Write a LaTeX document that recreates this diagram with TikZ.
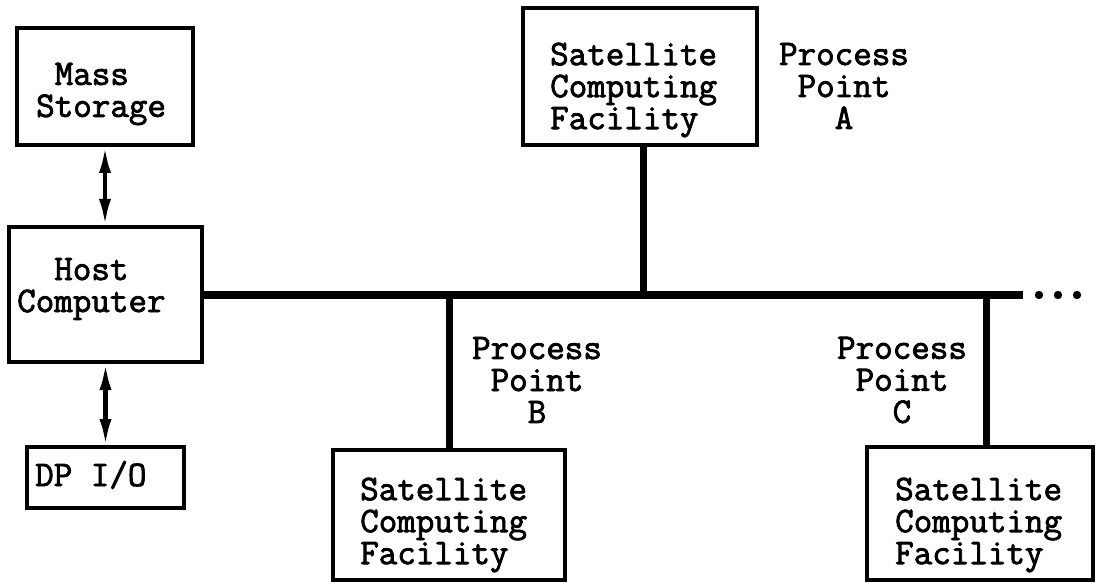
\documentclass[tikz,border=0pt]{standalone}
\usepackage{fontspec}
\setmonofont{Latin Modern Mono}[FakeBold=2.2]
\usetikzlibrary{arrows.meta}
\begin{document}
\begin{tikzpicture}[x=1pt,y=-1pt,
  box/.style={draw,line width=4.5pt,inner sep=0pt,outer sep=0pt},
  lbl/.style={inner sep=0pt,font=\fontsize{36}{32}\selectfont\ttfamily},
  bus/.style={line width=8pt},
  stem/.style={line width=7pt},
  dblarrow/.style={line width=4.5pt,>={Latex[length=28pt,width=12pt]},<->}]
\useasboundingbox (0,0) rectangle (1096,583);
\fill[white] (0,0) rectangle (1096,583);

% boxes
\node[box,minimum width=176pt,minimum height=117pt] (ms)   at (105,86.5)  {};
\node[box,minimum width=193pt,minimum height=135pt] (host) at (105.5,294.5) {};
\node[box,minimum width=157pt,minimum height=61pt]  (dpio) at (105.5,477.5) {};
\node[box,minimum width=234pt,minimum height=137pt] (satA) at (640,76.5)  {};
\node[box,minimum width=232pt,minimum height=130pt] (satB) at (449,515)   {};
\node[box,minimum width=226pt,minimum height=133pt] (satC) at (980,513.5) {};

% box texts
\node[lbl,anchor=west,align=left]   (msT)   at (36,94)   {\hphantom{S}Mass\\Storage};
\node[lbl,anchor=west,align=center] (hostT) at (17,289)  {Host\\Computer};
\node[lbl,anchor=west]              (dpioT) at (35,475)  {DP I/O};
\node[lbl,anchor=west,align=left]   (satAT) at (550,90)  {Satellite\\Computing\\Facility};
\node[lbl,anchor=west,align=left]   (satBT) at (360,525) {Satellite\\Computing\\Facility};
\node[lbl,anchor=west,align=left]   (satCT) at (895,525) {Satellite\\Computing\\Facility};

% process point labels
\node[lbl,align=center] (ppA) at (844,86)  {Process\\Point\\A};
\node[lbl,align=center] (ppB) at (537,380) {Process\\Point\\B};
\node[lbl,align=center] (ppC) at (902,380) {Process\\Point\\C};

% bus
\coordinate (busend) at (1023,294.5);
\draw[bus] (host.east) -- (busend);
\coordinate (tapA) at (643,294.5);
\coordinate (tapB) at (449,294.5);
\coordinate (tapC) at (986,294.5);
\draw[stem] (tapA) -- (tapA |- satA.south);
\draw[stem] (tapB) -- (tapB |- satB.north);
\draw[stem] (tapC) -- (tapC |- satC.north);

% continuation dots
\fill (1039,295) circle[radius=4.2pt];
\fill (1058,295) circle[radius=4.2pt];
\fill (1077,295) circle[radius=4.2pt];

% host links
\draw[dblarrow] (ms.south) -- (ms.south |- host.north);
\draw[dblarrow] (host.south) -- (dpio.north);
\end{tikzpicture}
\end{document}
